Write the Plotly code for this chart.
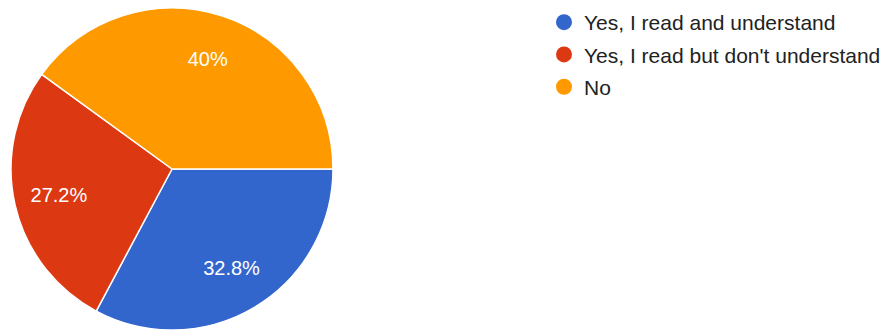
import plotly.graph_objects as go

labels = ["Yes, I read and understand", "Yes, I read but don't understand", "No"]
values = [32.8, 27.2, 40.0]
colors = ["#3366CC", "#DC3912", "#FF9900"]

W, H = 891, 331
pie_domain = dict(x=[11 / W, 333 / W], y=[1 - 330 / H, 1 - 8 / H])

fig = go.Figure()
# filled pie with white slice borders
fig.add_trace(go.Pie(
    labels=labels,
    values=values,
    sort=False,
    direction="clockwise",
    rotation=90,
    marker=dict(colors=colors, line=dict(color="white", width=1.5)),
    textinfo="none",
    hoverinfo="label+percent",
    showlegend=False,
    domain=pie_domain,
))
# transparent overlay that only carries the percentage labels (placed further out)
fig.add_trace(go.Pie(
    labels=labels,
    values=values,
    sort=False,
    direction="clockwise",
    rotation=90,
    hole=0.44,
    marker=dict(colors=["rgba(0,0,0,0)"] * len(values), line=dict(width=0)),
    texttemplate="%{value}%",
    textposition="inside",
    insidetextorientation="horizontal",
    textfont=dict(family="Liberation Sans, Arial", size=20, color="white"),
    hoverinfo="skip",
    showlegend=False,
    domain=pie_domain,
))

for lab, col in zip(labels, colors):
    fig.add_trace(go.Scatter(
        x=[None], y=[None], mode="markers", name=lab,
        legendgroup=lab,
        marker=dict(symbol="circle", size=16, color=col),
        showlegend=True,
    ))

fig.update_layout(
    width=W, height=H,
    margin=dict(l=0, r=0, t=0, b=0),
    paper_bgcolor="white",
    plot_bgcolor="white",
    xaxis=dict(visible=False),
    yaxis=dict(visible=False),
    showlegend=True,
    legend=dict(
        x=544 / W, y=1 - 2 / H, xanchor="left", yanchor="top",
        font=dict(family="Liberation Sans, Arial", size=21, color="#222222"),
        traceorder="grouped",
        tracegroupgap=2,
        bgcolor="rgba(0,0,0,0)",
    ),
)

fig.write_html("out.html")
